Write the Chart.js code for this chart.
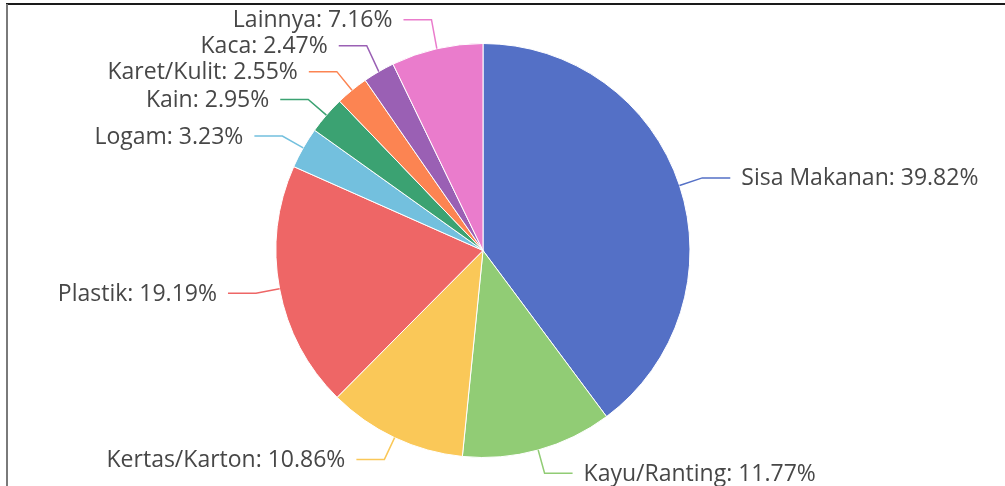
<!DOCTYPE html>
<html>
<head>
<meta charset="utf-8">
<script src="https://cdn.jsdelivr.net/npm/chart.js@4.4.0/dist/chart.umd.min.js"></script>
<style>
  html, body { margin: 0; padding: 0; background: #fff; }
  #wrap { position: relative; width: 1005px; height: 486px; }
</style>
</head>
<body>
<div id="wrap"><canvas id="c" width="1005" height="486"></canvas></div>
<script>
const categories = ["Sisa Makanan", "Kayu/Ranting", "Kertas/Karton", "Plastik", "Logam", "Kain", "Karet/Kulit", "Kaca", "Lainnya"];
const percentages = [39.82, 11.77, 10.86, 19.19, 3.23, 2.95, 2.55, 2.47, 7.16];
const sliceColors = ["#5470c6", "#91cc75", "#fac858", "#ee6666", "#73c0de", "#3ba272", "#fc8452", "#9a60b4", "#ea7ccc"];

const LABEL_FONT = '23px "Open Sans", sans-serif';
const LEN1 = 24, LEN2 = 28, TEXT_GAP = 11, MIN_GAP = 26;

const framePlugin = {
  id: 'frame',
  afterDraw(chart) {
    const ctx = chart.ctx;
    ctx.save();
    ctx.strokeStyle = '#1a1a1a';
    ctx.lineWidth = 2;
    ctx.beginPath(); ctx.moveTo(6, 4); ctx.lineTo(1005, 4); ctx.stroke();
    ctx.strokeStyle = '#7a7a7a';
    ctx.beginPath(); ctx.moveTo(7, 4); ctx.lineTo(7, 486); ctx.stroke();
    ctx.restore();
  }
};

const pieLabelPlugin = {
  id: 'pieLabels',
  afterDatasetsDraw(chart) {
    const ctx = chart.ctx;
    const meta = chart.getDatasetMeta(0);
    const items = meta.data.map((arc, i) => {
      const p = arc.getProps(['x', 'y', 'startAngle', 'endAngle', 'outerRadius'], true);
      const mid = (p.startAngle + p.endAngle) / 2;
      const cos = Math.cos(mid), sin = Math.sin(mid);
      const r = p.outerRadius;
      return {
        i,
        right: cos >= 0,
        x0: p.x + cos * r, y0: p.y + sin * r,
        x1: p.x + cos * (r + LEN1), y1: p.y + sin * (r + LEN1)
      };
    });
    // simple overlap avoidance: push upward from bottom, per side
    [true, false].forEach(side => {
      const s = items.filter(it => it.right === side).sort((a, b) => b.y1 - a.y1);
      let prev = null;
      s.forEach(it => {
        if (prev !== null && it.y1 > prev - MIN_GAP) it.y1 = prev - MIN_GAP;
        prev = it.y1;
      });
    });
    ctx.save();
    ctx.font = LABEL_FONT;
    ctx.textBaseline = 'middle';
    items.forEach(it => {
      const x2 = it.right ? it.x1 + LEN2 : it.x1 - LEN2;
      ctx.strokeStyle = sliceColors[it.i];
      ctx.lineWidth = 1.5;
      ctx.beginPath();
      ctx.moveTo(it.x0, it.y0);
      ctx.lineTo(it.x1, it.y1);
      ctx.lineTo(x2, it.y1);
      ctx.stroke();
      ctx.fillStyle = '#474747';
      ctx.textAlign = it.right ? 'left' : 'right';
      const txt = categories[it.i] + ': ' + percentages[it.i].toFixed(2) + '%';
      ctx.fillText(txt, it.right ? x2 + TEXT_GAP : x2 - TEXT_GAP, it.y1 + 1);
    });
    ctx.restore();
  }
};

new Chart(document.getElementById('c'), {
  type: 'pie',
  data: {
    labels: categories,
    datasets: [{
      data: percentages,
      backgroundColor: sliceColors,
      borderColor: '#ffffff',
      borderWidth: 1
    }]
  },
  options: {
    responsive: false,
    animation: false,
    layout: { padding: { top: 43, bottom: 28, left: 100, right: 139 } },
    plugins: {
      legend: { display: false },
      tooltip: { enabled: false }
    }
  },
  plugins: [pieLabelPlugin, framePlugin]
});
</script>
</body>
</html>
